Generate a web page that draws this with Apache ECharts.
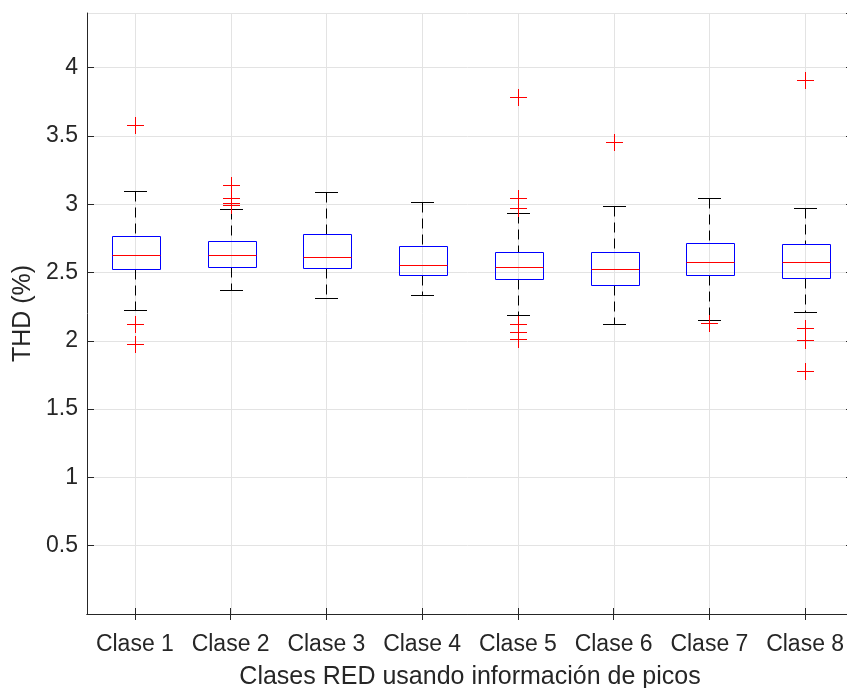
<!DOCTYPE html>
<html>
<head>
<meta charset="utf-8">
<script src="https://cdn.jsdelivr.net/npm/echarts@6/dist/echarts.min.js"></script>
<style>
  html, body { margin: 0; padding: 0; background: #ffffff; overflow: hidden; }
  #chart { width: 847px; height: 688px; }
</style>
</head>
<body>
<div id="chart"></div>
<script>
// ---- Data ----
const categories = ['Clase 1', 'Clase 2', 'Clase 3', 'Clase 4', 'Clase 5', 'Clase 6', 'Clase 7', 'Clase 8'];
const lowerWhisker = [2.225, 2.369, 2.310, 2.337, 2.187, 2.123, 2.152, 2.214];
const q1           = [2.524, 2.544, 2.531, 2.480, 2.454, 2.410, 2.483, 2.461];
const median       = [2.626, 2.626, 2.617, 2.556, 2.544, 2.524, 2.575, 2.578];
const q3           = [2.770, 2.728, 2.782, 2.697, 2.648, 2.648, 2.719, 2.706];
const upperWhisker = [3.098, 2.966, 3.088, 3.015, 2.935, 2.988, 3.047, 2.974];
const outliers = [
  [3.581, 2.123, 1.980],
  [3.141, 3.047, 3.010, 2.995],
  [],
  [],
  [3.788, 3.047, 2.974, 2.123, 2.061, 2.012],
  [3.457],
  [2.133],
  [3.909, 2.092, 2.007, 1.776]
];
const yMin = 0, yMax = 4.4, yStep = 0.5;
const xTitle = 'Clases RED usando información de picos';
const yTitle = 'THD (%)';

// ---- Build series data ----
const boxData = categories.map((c, i) => [i, lowerWhisker[i], q1[i], median[i], q3[i], upperWhisker[i]]);
const outlierData = [];
outliers.forEach((arr, i) => arr.forEach(v => outlierData.push([i, v])));
const gridData = categories.map((c, i) => [i]);

const AXIS_COLOR = '#262626';
const GRID_COLOR = '#e3e3e3';
const FONT = '"Liberation Sans", Arial, Helvetica, sans-serif';

function px(v) { return Math.round(v) + 0.5; }

function renderGridLine(params, api) {
  const cs = params.coordSys;
  const p = api.coord([api.value(0), yMin]);
  const x = px(p[0]);
  return {
    type: 'line',
    silent: true,
    shape: { x1: x, y1: cs.y, x2: x, y2: cs.y + cs.height },
    style: { stroke: GRID_COLOR, lineWidth: 1 }
  };
}

function renderBox(params, api) {
  const i = api.value(0);
  const band = api.size([1, 0])[0];
  const half = band * 0.25;
  const cap = band * 0.125;
  const pLw = api.coord([i, api.value(1)]);
  const pQ1 = api.coord([i, api.value(2)]);
  const pMed = api.coord([i, api.value(3)]);
  const pQ3 = api.coord([i, api.value(4)]);
  const pUw = api.coord([i, api.value(5)]);
  const x = px(pQ1[0]);
  const xl = px(x - half), xr = xl + Math.round(half * 2);
  const yTop = px(pQ3[1]), yBot = px(pQ1[1]);
  const dash = [10, 6];
  const black = { stroke: '#000000', lineWidth: 1, fill: null };
  return {
    type: 'group',
    children: [
      { type: 'line', shape: { x1: x, y1: px(pUw[1]), x2: x, y2: yTop },
        style: Object.assign({ lineDash: dash }, black) },
      { type: 'line', shape: { x1: x, y1: yBot, x2: x, y2: px(pLw[1]) },
        style: Object.assign({ lineDash: dash }, black) },
      { type: 'line', shape: { x1: Math.round(x - cap), y1: px(pUw[1]), x2: Math.round(x + cap), y2: px(pUw[1]) },
        style: Object.assign({}, black) },
      { type: 'line', shape: { x1: Math.round(x - cap), y1: px(pLw[1]), x2: Math.round(x + cap), y2: px(pLw[1]) },
        style: Object.assign({}, black) },
      { type: 'polygon', shape: { points: [[xl, yTop], [xr, yTop], [xr, yBot], [xl, yBot]] },
        style: { stroke: '#0000ff', lineWidth: 1, fill: 'rgba(0,0,0,0)' } },
      { type: 'line', shape: { x1: xl, y1: px(pMed[1]), x2: xr, y2: px(pMed[1]) },
        style: { stroke: '#ff0000', lineWidth: 1 } }
    ]
  };
}

function renderOutlier(params, api) {
  const p = api.coord([api.value(0), api.value(1)]);
  const x = px(p[0]), y = px(p[1]);
  const h = 8.5;
  return {
    type: 'group',
    children: [
      { type: 'line', shape: { x1: x - h, y1: y, x2: x + h, y2: y }, style: { stroke: '#ff0000', lineWidth: 1 } },
      { type: 'line', shape: { x1: x, y1: y - h, x2: x, y2: y + h }, style: { stroke: '#ff0000', lineWidth: 1 } }
    ]
  };
}

const chart = echarts.init(document.getElementById('chart'), null, { renderer: 'canvas' });

const xAxisCommon = {
  type: 'category',
  data: categories,
  boundaryGap: true,
  axisLine: { show: true, lineStyle: { color: AXIS_COLOR, width: 1 } },
  axisTick: { show: true, inside: true, alignWithLabel: true, length: 6, lineStyle: { color: AXIS_COLOR } },
  splitLine: { show: false }
};
const yAxisCommon = {
  type: 'value',
  min: yMin,
  max: yMax,
  interval: yStep,
  axisLine: { show: true, lineStyle: { color: AXIS_COLOR, width: 1 } },
  axisTick: { show: true, inside: true, length: 7, lineStyle: { color: AXIS_COLOR } }
};

chart.setOption({
  animation: false,
  backgroundColor: '#ffffff',
  grid: { left: 87, top: 13, width: 766, height: 601, containLabel: false, outerBoundsMode: 'none' },
  xAxis: [
    Object.assign({}, xAxisCommon, {
      position: 'bottom',
      name: xTitle,
      nameLocation: 'middle',
      nameGap: 51,
      nameTextStyle: { fontFamily: FONT, fontSize: 25, color: AXIS_COLOR },
      axisLabel: { show: true, fontFamily: FONT, fontSize: 23, color: AXIS_COLOR, margin: 19, interval: 0 }
    }),
    Object.assign({}, xAxisCommon, {
      position: 'top',
      axisLabel: { show: false }
    })
  ],
  yAxis: [
    Object.assign({}, yAxisCommon, {
      position: 'left',
      name: yTitle,
      nameLocation: 'middle',
      nameGap: 49,
      nameTextStyle: { fontFamily: FONT, fontSize: 25, color: AXIS_COLOR },
      axisLabel: {
        show: true, fontFamily: FONT, fontSize: 23, color: AXIS_COLOR, margin: 9,
        showMaxLabel: false, showMinLabel: false,
        formatter: v => (v === 0 || v > 4.01 ? '' : String(v))
      },
      splitLine: { show: true, lineStyle: { color: GRID_COLOR, width: 1 } }
    }),
    Object.assign({}, yAxisCommon, {
      position: 'right',
      axisLabel: { show: false },
      splitLine: { show: false }
    })
  ],
  series: [
    {
      type: 'custom', name: 'grid', xAxisIndex: 0, yAxisIndex: 0,
      renderItem: renderGridLine, data: gridData, encode: { x: 0 }, silent: true, z: 0
    },
    {
      type: 'custom', name: 'boxes', xAxisIndex: 0, yAxisIndex: 0,
      renderItem: renderBox, data: boxData, encode: { x: 0, y: [1, 2, 3, 4, 5] }, z: 2
    },
    {
      type: 'custom', name: 'outliers', xAxisIndex: 0, yAxisIndex: 0,
      renderItem: renderOutlier, data: outlierData, encode: { x: 0, y: 1 }, z: 3
    }
  ]
});
</script>
</body>
</html>
